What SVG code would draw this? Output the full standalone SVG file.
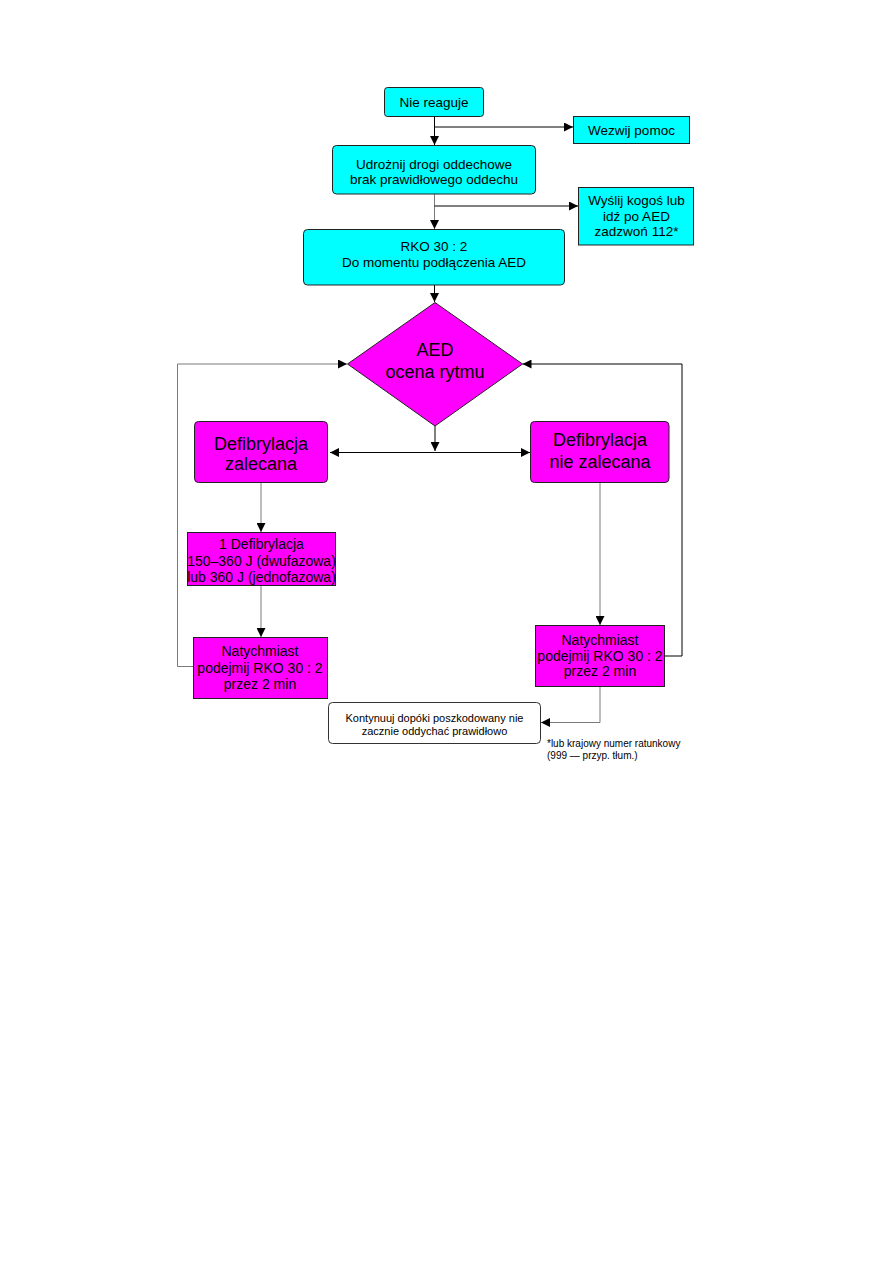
<svg xmlns="http://www.w3.org/2000/svg" width="893" height="1263" viewBox="0 0 893 1263">
<defs>
<marker id="ah" viewBox="0 0 10 10" refX="10" refY="5" markerWidth="9" markerHeight="9" markerUnits="userSpaceOnUse" orient="auto-start-reverse">
<path d="M0,0 L10,5 L0,10 z" fill="#000"/>
</marker>
<style>
.cy{fill:#00FFFF;stroke:#222;stroke-width:1}
.mg{fill:#FF00FF;stroke:#222;stroke-width:1}
.wh{fill:#fff;stroke:#333;stroke-width:1}
text{font-family:"Liberation Sans",Arial,Helvetica,sans-serif;fill:#000;text-anchor:middle}
.t13{font-size:13.5px}
.t14{font-size:14px}
.t18{font-size:18px}
.t11{font-size:11px}
.t10{font-size:10px;text-anchor:start}
.c{fill:none;stroke:#000;stroke-width:1}
.g{fill:none;stroke:#7a7a7a;stroke-width:1}
</style>
</defs>
<rect width="893" height="1263" fill="#fff"/>
<g id="connectors">
<path class="c" d="M434.5,117 V145" marker-end="url(#ah)"/>
<path class="c" d="M434.5,127 H573" marker-end="url(#ah)"/>
<path class="g" d="M434.5,194 V229" marker-end="url(#ah)"/>
<path class="c" d="M434.5,206 H578" marker-end="url(#ah)"/>
<path class="c" d="M434.5,285 V302" marker-end="url(#ah)"/>
<path class="c" d="M435,426 V451" marker-end="url(#ah)"/>
<path class="c" d="M330,452.5 H530" marker-start="url(#ah)" marker-end="url(#ah)"/>
<path class="g" d="M261,483 V532" marker-end="url(#ah)"/>
<path class="g" d="M261,586 V637" marker-end="url(#ah)"/>
<path class="g" d="M193,666.5 H177.5 V364 H347" marker-end="url(#ah)"/>
<path class="g" d="M600,483 V625" marker-end="url(#ah)"/>
<path class="c" d="M665,656 H682 V364 H522.5" marker-end="url(#ah)"/>
<path class="g" d="M600,686 V722.5 H541" marker-end="url(#ah)"/>
</g>
<g id="n1"><rect class="cy" x="384.5" y="87.5" width="99" height="29" rx="3"/><text class="t13" x="434" y="106.5">Nie reaguje</text></g>
<g id="n2"><rect class="cy" x="573.5" y="116.5" width="116" height="27"/><text class="t13" x="631.5" y="134.5">Wezwij pomoc</text></g>
<g id="n3"><rect class="cy" x="332.5" y="145.5" width="203" height="48.5" rx="4"/><text class="t13" x="434" y="168.5">Udrożnij drogi oddechowe</text><text class="t13" x="434" y="184">brak prawidłowego oddechu</text></g>
<g id="n4"><rect class="cy" x="578.5" y="187.5" width="115" height="57.5"/><text class="t13" x="636.5" y="204.5">Wyślij kogoś lub</text><text class="t13" x="636.5" y="220.5">idź po AED</text><text class="t13" x="636.5" y="236">zadzwoń 112*</text></g>
<g id="n5"><rect class="cy" x="303.5" y="229.5" width="261" height="55.5" rx="4"/><text class="t13" x="434" y="251">RKO 30 : 2</text><text class="t13" x="434" y="267">Do momentu podłączenia AED</text></g>
<g id="n6"><polygon class="mg" points="435,302.5 522.5,364 435,426 347.5,364"/><text class="t18" x="435" y="355.5">AED</text><text class="t18" x="435" y="377.5">ocena rytmu</text></g>
<g id="n7"><rect class="mg" x="194.5" y="421.5" width="133" height="61" rx="4"/><text class="t18" x="261" y="449.5">Defibrylacja</text><text class="t18" x="261" y="470">zalecana</text></g>
<g id="n8"><rect class="mg" x="530.5" y="421.5" width="138.5" height="61" rx="4"/><text class="t18" x="600" y="446">Defibrylacja</text><text class="t18" x="600" y="468">nie zalecana</text></g>
<g id="n9"><rect class="mg" x="187.5" y="532.5" width="148" height="53"/><text class="t14" x="261.5" y="549">1 Defibrylacja</text><text class="t14" x="261.5" y="565.5">150–360 J (dwufazowa)</text><text class="t14" x="261.5" y="582">lub 360 J (jednofazowa)</text></g>
<g id="n10"><rect class="mg" x="193.5" y="637.5" width="134" height="61"/><text class="t14" x="260" y="655.5">Natychmiast</text><text class="t14" x="260" y="672.5">podejmij RKO 30 : 2</text><text class="t14" x="260" y="689">przez 2 min</text></g>
<g id="n11"><rect class="mg" x="535.5" y="625.5" width="129" height="61"/><text class="t14" x="600" y="645">Natychmiast</text><text class="t14" x="600" y="660.5">podejmij RKO 30 : 2</text><text class="t14" x="600" y="676">przez 2 min</text></g>
<g id="n12"><rect class="wh" x="328.5" y="702.5" width="212" height="41" rx="4"/><text class="t11" x="434.5" y="722">Kontynuuj dopóki poszkodowany nie</text><text class="t11" x="434.5" y="734.5">zacznie oddychać prawidłowo</text></g>
<g id="note"><text class="t10" x="547" y="747">*lub krajowy numer ratunkowy</text><text class="t10" x="547" y="759">(999 — przyp. tłum.)</text></g>
</svg>
